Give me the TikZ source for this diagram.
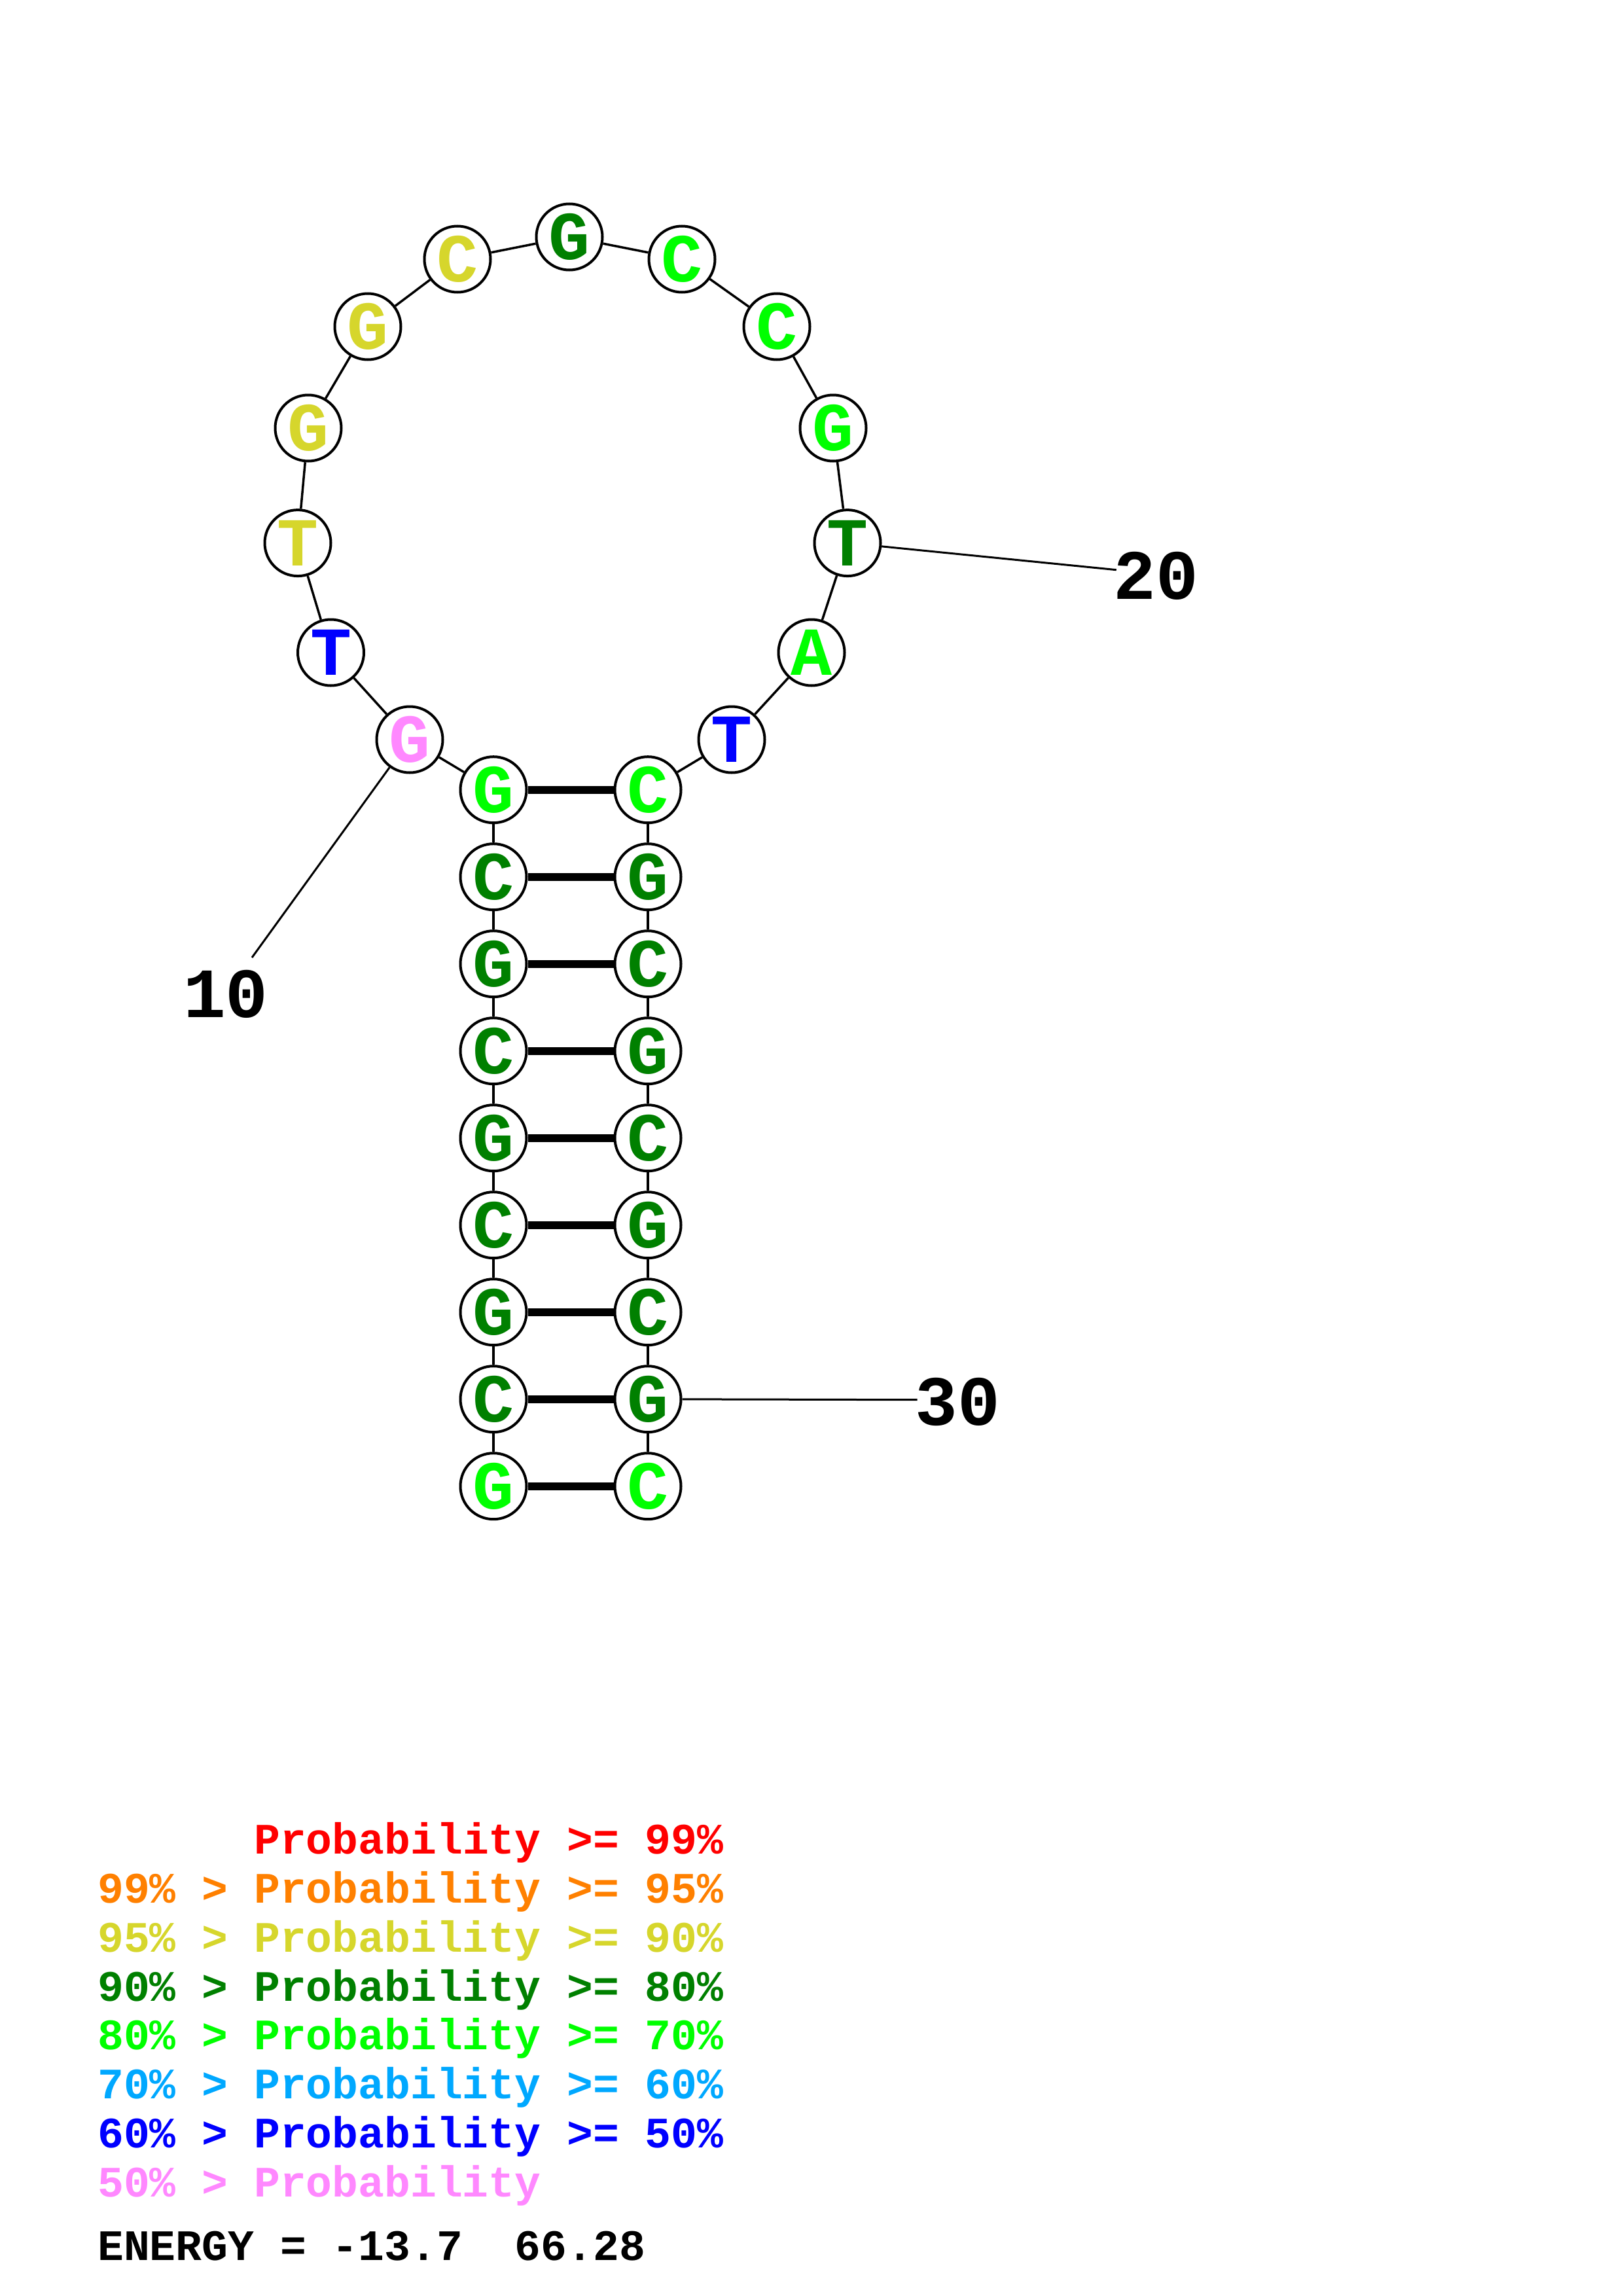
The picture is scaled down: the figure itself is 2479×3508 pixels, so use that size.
\documentclass[tikz,border=0pt]{standalone}
\usepackage{fontspec}
\newfontfamily\cmono{Liberation Mono}
\definecolor{cpink}{HTML}{FF88FF}
\definecolor{cblue}{HTML}{0000FF}
\definecolor{cyel}{HTML}{D6D62C}
\definecolor{cdg}{HTML}{008000}
\definecolor{cgr}{HTML}{00FF00}
\definecolor{cred}{HTML}{FF0000}
\definecolor{corg}{HTML}{FF8000}
\definecolor{clb}{HTML}{00A8FF}
\begin{document}
\begin{tikzpicture}[x=1pt,y=-1pt,
  base/.style={circle,draw=black,line width=4pt,fill=white,minimum size=101pt,inner sep=0pt,
    font=\cmono\bfseries\fontsize{105}{105}\selectfont},
  bb/.style={line width=3.5pt,black},
  pr/.style={line width=12pt,black},
  lbl/.style={inner sep=0pt,font=\cmono\bfseries\fontsize{108}{108}\selectfont},
  leg/.style={inner sep=0pt,anchor=base west,font=\cmono\bfseries\fontsize{66.4}{66.4}\selectfont}]
\useasboundingbox[fill=white] (0,0) rectangle (2479,3508);
% left stem (1..9, bottom to top)
\node[base,text=cgr] (n1) at (754,2270.7) {G};
\node[base,text=cdg] (n2) at (754,2137.7) {C};
\node[base,text=cdg] (n3) at (754,2004.7) {G};
\node[base,text=cdg] (n4) at (754,1871.7) {C};
\node[base,text=cdg] (n5) at (754,1738.7) {G};
\node[base,text=cdg] (n6) at (754,1605.7) {C};
\node[base,text=cdg] (n7) at (754,1472.7) {G};
\node[base,text=cdg] (n8) at (754,1339.7) {C};
\node[base,text=cgr] (n9) at (754,1206.7) {G};
% loop
\node[base,text=cpink] (n10) at (626,1130) {G};
\node[base,text=cblue] (n11) at (505.5,997) {T};
\node[base,text=cyel] (n12) at (455,829.6) {T};
\node[base,text=cyel] (n13) at (471,654) {G};
\node[base,text=cyel] (n14) at (562,499) {G};
\node[base,text=cyel] (n15) at (699,396) {C};
\node[base,text=cdg] (n16) at (870,362) {G};
\node[base,text=cgr] (n17) at (1042,396) {C};
\node[base,text=cgr] (n18) at (1187,499) {C};
\node[base,text=cgr] (n19) at (1273,654) {G};
\node[base,text=cdg] (n20) at (1295,829.6) {T};
\node[base,text=cgr] (n21) at (1240,997) {A};
\node[base,text=cblue] (n22) at (1118,1130) {T};
% right stem (23..31, top to bottom)
\node[base,text=cgr] (n23) at (990,1206.7) {C};
\node[base,text=cdg] (n24) at (990,1339.7) {G};
\node[base,text=cdg] (n25) at (990,1472.7) {C};
\node[base,text=cdg] (n26) at (990,1605.7) {G};
\node[base,text=cdg] (n27) at (990,1738.7) {C};
\node[base,text=cdg] (n28) at (990,1871.7) {G};
\node[base,text=cdg] (n29) at (990,2004.7) {C};
\node[base,text=cdg] (n30) at (990,2137.7) {G};
\node[base,text=cgr] (n31) at (990,2270.7) {C};
% backbone
\foreach \a/\b in {1/2,2/3,3/4,4/5,5/6,6/7,7/8,8/9,9/10,10/11,11/12,12/13,13/14,14/15,15/16,16/17,17/18,18/19,19/20,20/21,21/22,22/23,23/24,24/25,25/26,26/27,27/28,28/29,29/30,30/31}
  \draw[bb] (n\a) -- (n\b);
% pairs
\foreach \a/\b in {9/23,8/24,7/25,6/26,5/27,4/28,3/29,2/30,1/31}
  \draw[pr] (n\a) -- (n\b);
% position labels
\coordinate (e10) at (385,1463);
\coordinate (e20) at (1705.8,870.7);
\coordinate (e30) at (1401.6,2138.7);
\draw[bb,line width=3pt] (n10) -- (e10);
\draw[bb,line width=3pt] (n20) -- (e20);
\draw[bb,line width=3pt] (n30) -- (e30);
\node[lbl] (l10) at (345,1519) {10};
\node[lbl] (l20) at (1766,880) {20};
\node[lbl] (l30) at (1463,2142) {30};
% legend
\node[leg,text=cred] (g0) at (149,2832.3) {\phantom{99\% > }Probability >= 99\%};
\node[leg,text=corg] (g1) at (149,2907.2) {99\% > Probability >= 95\%};
\node[leg,text=cyel] (g2) at (149,2982.1) {95\% > Probability >= 90\%};
\node[leg,text=cdg] (g3) at (149,3057.0) {90\% > Probability >= 80\%};
\node[leg,text=cgr] (g4) at (149,3131.9) {80\% > Probability >= 70\%};
\node[leg,text=clb] (g5) at (149,3206.8) {70\% > Probability >= 60\%};
\node[leg,text=cblue] (g6) at (149,3281.7) {60\% > Probability >= 50\%};
\node[leg,text=cpink] (g7) at (149,3356.6) {50\% > Probability};
\node[leg,text=black] (en) at (149,3453) {ENERGY = -13.7\ \ 66.28};
\end{tikzpicture}
\end{document}
